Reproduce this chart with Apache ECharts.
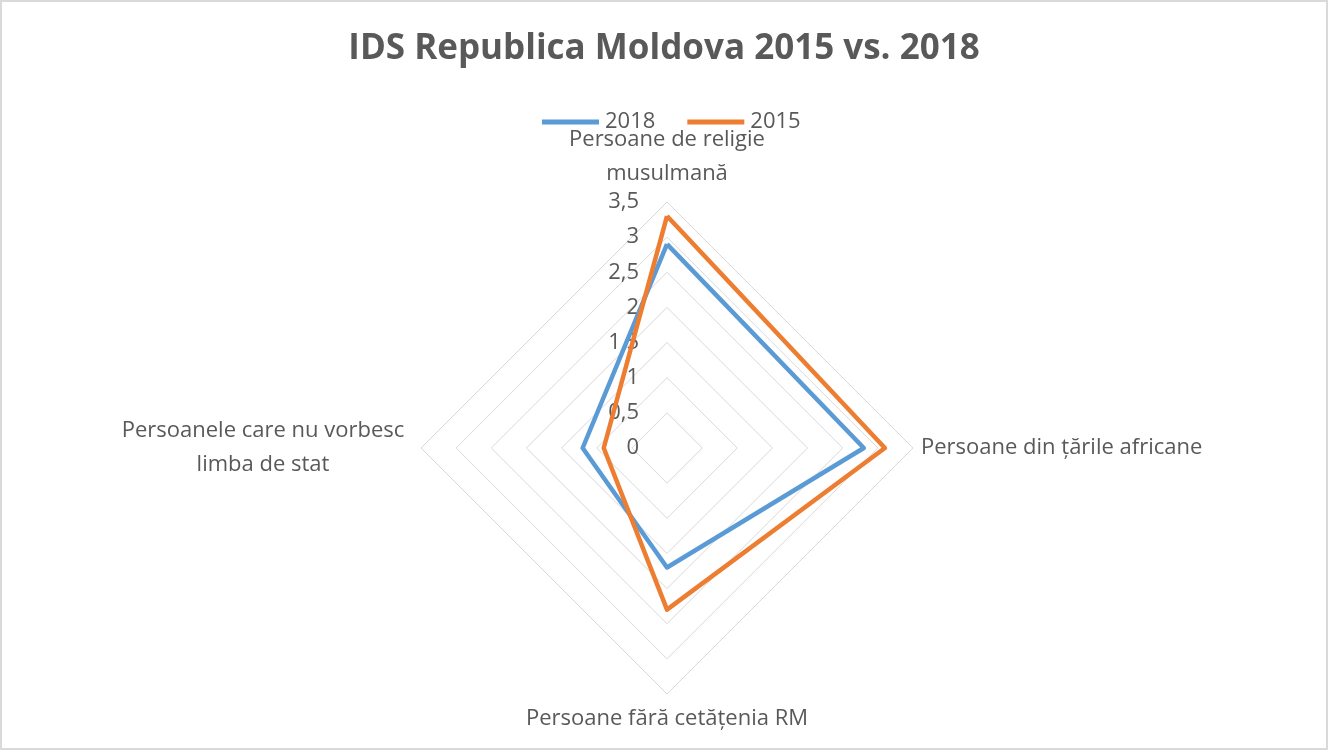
<!DOCTYPE html>
<html>
<head>
<meta charset="utf-8">
<script src="https://cdn.jsdelivr.net/npm/echarts@6/dist/echarts.min.js"></script>
<style>
html,body{margin:0;padding:0;background:#fff;}
#c{width:1328px;height:750px;box-sizing:border-box;border:2px solid #dadada;}
</style>
</head>
<body>
<div id="c"></div>
<script>
// Indicators listed counter-clockwise from the top (ECharts radar order)
var categories = [
  'Persoane de religie\nmusulmană',
  'Persoanele care nu vorbesc\nlimba de stat',
  'Persoane fără cetățenia RM',
  'Persoane din țările africane'
];
var seriesNames = ['2018', '2015'];
var values2018 = [2.9, 1.2, 1.7, 2.8];
var values2015 = [3.3, 0.9, 2.3, 3.1];
var axisMax = 3.5;
var axisSplits = 7;

var chart = echarts.init(document.getElementById('c'));
var FONT = '"Open Sans", sans-serif';
var GREY = '#595959';

var indicators = categories.map(function (name, i) {
  var ind = { name: name, min: 0, max: axisMax };
  if (i === 0) {
    ind.axisLabel = {
      show: true,
      color: GREY,
      fontFamily: FONT,
      fontSize: 22,
      margin: 28,
      formatter: function (v) { return String(v).replace('.', ','); }
    };
  }
  return ind;
});

chart.setOption({
  backgroundColor: '#fff',
  animation: false,
  title: {
    text: 'IDS Republica Moldova 2015 vs. 2018',
    left: 'center',
    top: 25,
    textStyle: { color: GREY, fontFamily: FONT, fontWeight: 'bold', fontSize: 35 }
  },
  legend: {
    data: seriesNames,
    top: 104,
    left: 535,
    icon: 'rect',
    itemWidth: 57,
    itemHeight: 5,
    itemGap: 32,
    textStyle: { color: GREY, fontFamily: FONT, fontSize: 22, padding: [0, 0, 0, 1] }
  },
  radar: {
    center: [665, 446],
    radius: 246,
    startAngle: 90,
    shape: 'polygon',
    splitNumber: axisSplits,
    nameGap: 8,
    indicator: indicators,
    axisName: {
      color: GREY,
      fontFamily: FONT,
      fontSize: 22,
      lineHeight: 34,
      formatter: function (name) {
        if (name.indexOf('\n') >= 0) {
          var parts = name.split('\n');
          return parts.map(function (p) { return '{c|' + p + '}'; }).join('\n');
        }
        return name;
      },
      rich: {
        c: { width: 300, align: 'center', color: GREY, fontFamily: FONT, fontSize: 22, lineHeight: 34 }
      }
    },
    axisLine: { show: false },
    axisTick: { show: false },
    axisLabel: { show: false },
    splitArea: { show: false },
    splitLine: { lineStyle: { color: '#d9d9d9', width: 1 } }
  },
  series: [{
    type: 'radar',
    symbol: 'none',
    data: [
      { name: seriesNames[0], value: values2018,
        lineStyle: { color: '#5B9BD5', width: 4.5 }, itemStyle: { color: '#5B9BD5' } },
      { name: seriesNames[1], value: values2015,
        lineStyle: { color: '#ED7D31', width: 4.5 }, itemStyle: { color: '#ED7D31' } }
    ]
  }]
});
</script>
</body>
</html>
